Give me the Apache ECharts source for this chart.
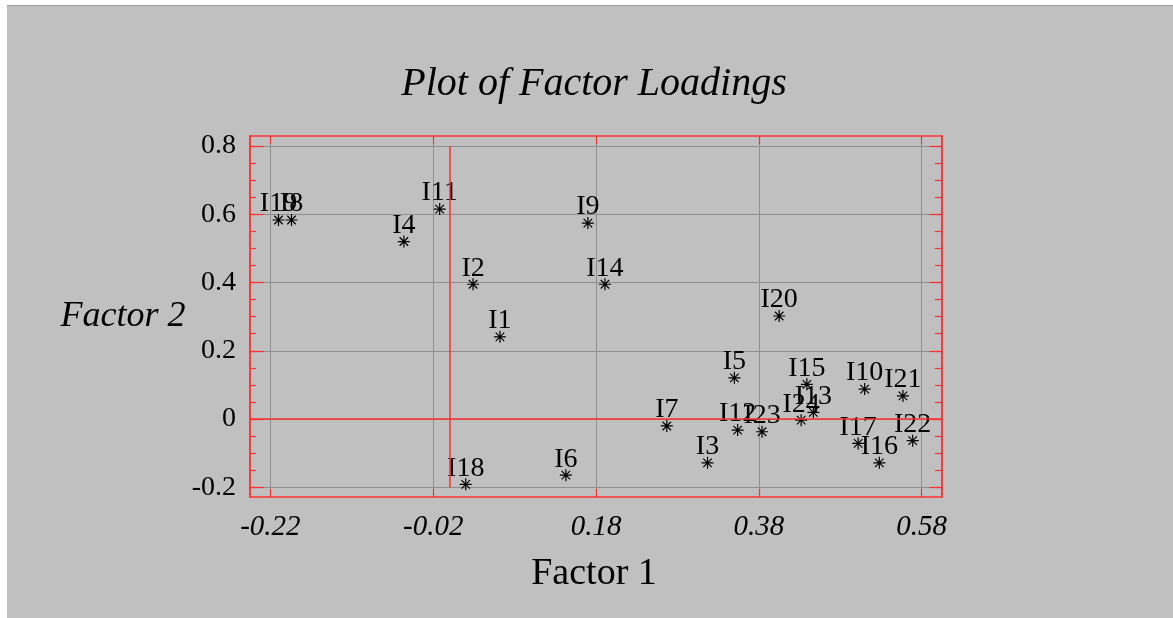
<!DOCTYPE html>
<html>
<head>
<meta charset="utf-8">
<script src="https://cdn.jsdelivr.net/npm/echarts@6/dist/echarts.min.js"></script>
<style>
  html, body { margin: 0; padding: 0; background: #ffffff; }
  #bg { position: absolute; left: 7px; top: 5px; width: 1166px; height: 613px; background: #c0c0c0; border-top: 1px solid #9a9a9a; box-sizing: border-box; }
  #chart { position: absolute; left: 0; top: 0; width: 1173px; height: 618px; }
</style>
</head>
<body>
<div id="bg"></div>
<div id="chart"></div>
<script>
// ---- data ----
const names   = ['I1','I2','I3','I4','I5','I6','I7','I8','I9','I10','I11','I12','I13','I14','I15','I16','I17','I18','I19','I20','I21','I22','I23','I24'];
const factor1 = [0.062, 0.029, 0.317, -0.056, 0.350, 0.143, 0.267, -0.194, 0.170, 0.510, -0.012, 0.354, 0.447, 0.191, 0.439, 0.528, 0.502, 0.020, -0.210, 0.405, 0.557, 0.569, 0.384, 0.432];
const factor2 = [0.241, 0.395, -0.128, 0.520, 0.121, -0.164, -0.020, 0.583, 0.574, 0.088, 0.615, -0.032, 0.020, 0.395, 0.102, -0.128, -0.071, -0.191, 0.583, 0.302, 0.068, -0.063, -0.037, -0.003];
const xTicks = [-0.22, -0.02, 0.18, 0.38, 0.58];
const yTicks = [-0.2, 0, 0.2, 0.4, 0.6, 0.8];
const yMinorTicks = [-0.2, -0.15, -0.1, -0.05, 0, 0.05, 0.1, 0.15, 0.2, 0.25, 0.3, 0.35, 0.4, 0.45, 0.5, 0.55, 0.6, 0.65, 0.7, 0.75, 0.8];

const RED = '#ff3030';
const GRID = '#8e8e8e';
const SERIF = "'Liberation Serif', 'Times New Roman', serif";
const XMIN = -0.245, XMAX = 0.605, YMIN = -0.228, YMAX = 0.829;

const star = 'path://M45 0L55 0L55 100L45 100Z M0 45L100 45L100 55L0 55Z ' +
  'M18.1 11.1L88.9 81.9L81.9 88.9L11.1 18.1Z M81.9 11.1L88.9 18.1L18.1 88.9L11.1 81.9Z';

const points = names.map((n, i) => [factor1[i], factor2[i], n]);

function yAx(pos, vals, len, labels, split) {
  return {
    type: 'value', position: pos, min: YMIN, max: YMAX,
    axisLine: { show: true, onZero: false, lineStyle: { color: RED, width: 1.5 } },
    axisTick: { show: true, inside: true, length: len, customValues: vals, lineStyle: { color: RED, width: 1.2 } },
    axisLabel: labels ? { show: true, customValues: yTicks, margin: 14, color: '#000', fontFamily: SERIF, fontSize: 28 } : { show: false },
    splitLine: split ? { show: true, lineStyle: { color: GRID, width: 1 } } : { show: false }
  };
}

const chart = echarts.init(document.getElementById('chart'), null, { renderer: 'canvas' });
chart.setOption({
  backgroundColor: 'transparent',
  animation: false,
  grid: { left: 250, top: 136, width: 692, height: 361, containLabel: false },
  xAxis: [
    {
      type: 'value', position: 'bottom', min: XMIN, max: XMAX,
      axisLine: { show: true, onZero: false, lineStyle: { color: RED, width: 1.5 } },
      axisTick: { show: true, inside: true, length: 8, customValues: xTicks, lineStyle: { color: RED, width: 1.2 } },
      axisLabel: { show: true, customValues: xTicks, margin: 16, color: '#000', fontFamily: SERIF, fontSize: 29, fontStyle: 'italic' },
      splitLine: { show: true, lineStyle: { color: GRID, width: 1 } }
    },
    {
      type: 'value', position: 'top', min: XMIN, max: XMAX,
      axisLine: { show: true, onZero: false, lineStyle: { color: RED, width: 1.5 } },
      axisTick: { show: true, inside: true, length: 8, customValues: xTicks, lineStyle: { color: RED, width: 1.2 } },
      axisLabel: { show: false },
      splitLine: { show: false }
    }
  ],
  yAxis: [
    yAx('left', yTicks, 14, true, true),
    yAx('left', yMinorTicks, 6, false, false),
    yAx('right', yTicks, 13, false, false),
    yAx('right', yMinorTicks, 7, false, false)
  ],
  graphic: [
    { type: 'text', x: 594, y: 84, style: { text: 'Plot of Factor Loadings', font: "italic 40px " + SERIF, fill: '#000', textAlign: 'center', textVerticalAlign: 'middle' } },
    { type: 'text', x: 594, y: 574, style: { text: 'Factor 1', font: "38px " + SERIF, fill: '#000', textAlign: 'center', textVerticalAlign: 'middle' } },
    { type: 'text', x: 123, y: 317, style: { text: 'Factor 2', font: "italic 36px " + SERIF, fill: '#000', textAlign: 'center', textVerticalAlign: 'middle' } }
  ],
  series: [{
    type: 'scatter',
    xAxisIndex: 0, yAxisIndex: 0,
    data: points,
    symbol: star,
    symbolSize: 12,
    itemStyle: { color: '#000', opacity: 1 },
    label: {
      show: true, position: 'top', distance: -4,
      formatter: p => p.data[2],
      color: '#000', opacity: 1, fontFamily: SERIF, fontSize: 28, lineHeight: 28
    },
    markLine: {
      silent: true, symbol: 'none', animation: false,
      label: { show: false },
      lineStyle: { color: RED, width: 1.5, type: 'solid', opacity: 1 },
      data: [
        [{ coord: [XMIN, 0] }, { coord: [XMAX, 0] }],
        [{ coord: [0, -0.2] }, { coord: [0, 0.8] }]
      ]
    },
    z: 3
  }]
});
</script>
</body>
</html>
